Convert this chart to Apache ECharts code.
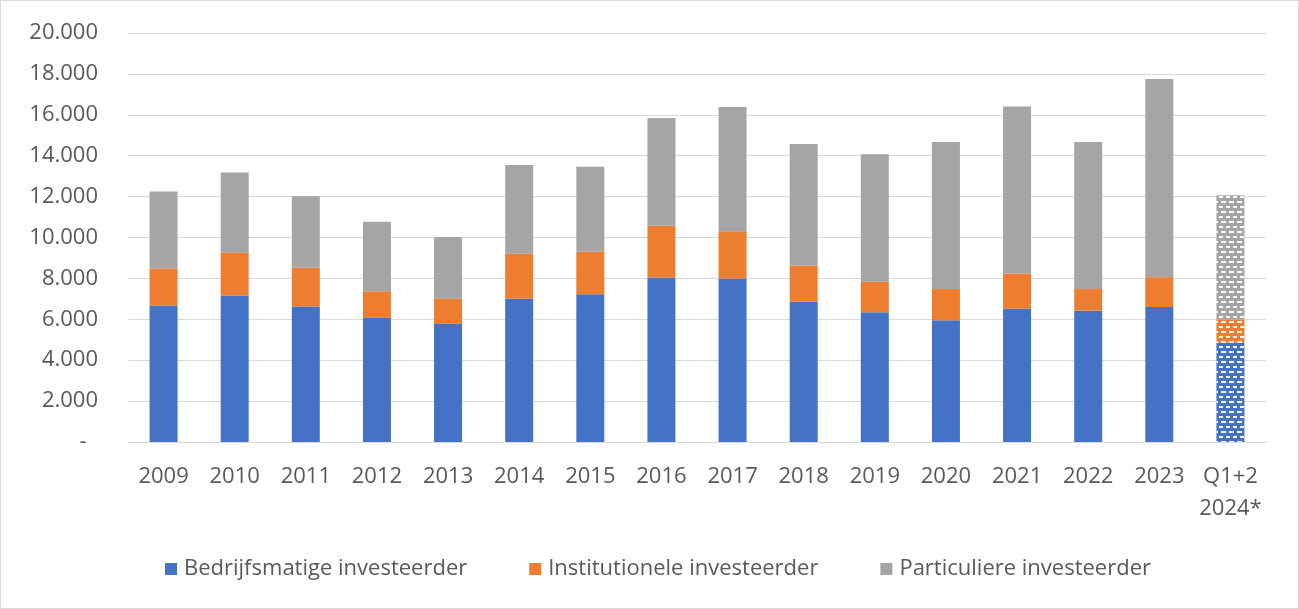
<!DOCTYPE html>
<html>
<head>
<meta charset="utf-8">
<script src="https://cdn.jsdelivr.net/npm/echarts@6/dist/echarts.min.js"></script>
<style>
html,body{margin:0;padding:0;background:#fff;}
#chart{width:1299px;height:609px;box-sizing:border-box;border:1px solid #D9D9D9;}
</style>
</head>
<body>
<div id="chart"></div>
<script>
const categories = ['2009','2010','2011','2012','2013','2014','2015','2016','2017','2018','2019','2020','2021','2022','2023','Q1+2\n2024*'];
const bedrijfsmatig = [6680, 7160, 6620, 6070, 5780, 7000, 7220, 8050, 7990, 6860, 6340, 5950, 6520, 6420, 6600, 4850];
const institutioneel = [1810, 2100, 1900, 1300, 1230, 2210, 2080, 2520, 2310, 1770, 1500, 1530, 1720, 1060, 1460, 1140];
const particulier = [3760, 3920, 3500, 3400, 3010, 4340, 4160, 5270, 6080, 5940, 6230, 7190, 8170, 7190, 9690, 6080];
const seriesNames = ['Bedrijfsmatige investeerder', 'Institutionele investeerder', 'Particuliere investeerder'];
const colors = ['#4472C4', '#ED7D31', '#A5A5A5'];
const yTicks = {min: 0, max: 20000, interval: 2000};

const FONT = 'Open Sans';
const decal = {
  symbol: 'rect',
  symbolSize: 1,
  color: 'rgba(255,255,255,0.95)',
  dashArrayX: [[4, 3], [0.5, 3, 3.5, 0]],
  dashArrayY: [1.5, 2.5],
  rotation: 0
};
function withDecal(arr) {
  return arr.map((v, i) => i === arr.length - 1 ? {value: v, itemStyle: {decal: decal}} : v);
}
const seriesData = [bedrijfsmatig, institutioneel, particulier];

const chart = echarts.init(document.getElementById('chart'), null, {renderer: 'canvas'});
chart.setOption({
  animation: false,
  color: colors,
  textStyle: {fontFamily: FONT},
  grid: {left: 127, right: 32, top: 32, bottom: 166, containLabel: false, outerBoundsMode: 'none'},
  legend: {
    data: seriesNames,
    left: 159,
    top: 552,
    icon: 'rect',
    itemWidth: 12,
    itemHeight: 12,
    itemGap: 62,
    textStyle: {fontFamily: FONT, fontSize: 22, color: '#595959', padding: [0, 0, 0, 2]}
  },
  xAxis: {
    type: 'category',
    data: categories,
    axisLine: {show: true, lineStyle: {color: '#D9D9D9', width: 1}},
    axisTick: {show: false},
    axisLabel: {fontFamily: FONT, fontSize: 22, color: '#595959', margin: 19, lineHeight: 32, interval: 0}
  },
  yAxis: {
    type: 'value',
    min: yTicks.min,
    max: yTicks.max,
    interval: yTicks.interval,
    axisLine: {show: false},
    axisTick: {show: false},
    splitLine: {lineStyle: {color: '#D9D9D9', width: 1}},
    axisLabel: {
      fontFamily: FONT, fontSize: 22, color: '#595959', margin: 30,
      formatter: v => v === 0 ? '-  ' : (v / 1000).toFixed(0) + '.000'
    }
  },
  series: seriesNames.map((name, k) => ({
    name: name,
    type: 'bar',
    stack: 'total',
    barWidth: 28,
    data: withDecal(seriesData[k]),
    itemStyle: {color: colors[k]}
  }))
});
</script>
</body>
</html>
